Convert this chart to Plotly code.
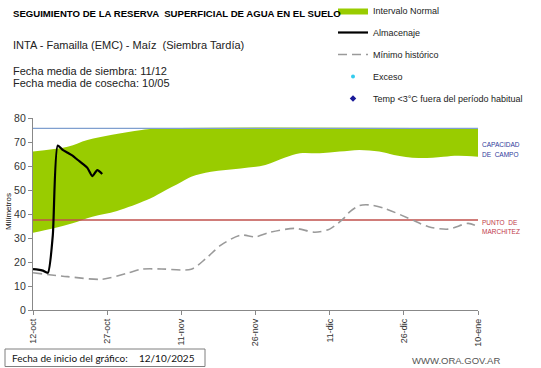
import plotly.graph_objects as go

# ---------------- data ----------------
TICK_DAYS = [0, 15, 30, 45, 60, 75, 90]
TICK_LABELS = ["12-oct", "27-oct", "11-nov", "26-nov", "11-dic", "26-dic", "10-ene"]

BAND_LOW_DAYS = [0, 4, 8, 12, 17, 23, 26, 30, 32, 36, 42, 47, 51, 54, 58, 62, 66, 70, 73, 78, 83, 86, 90]
BAND_LOW = [32.2, 34.0, 36.1, 38.9, 41.3, 45.8, 49.0, 53.3, 55.5, 57.6, 59.0, 60.4, 63.5, 65.3, 65.3,
            66.0, 66.7, 66.0, 64.6, 63.3, 63.9, 64.3, 63.9]
BAND_HIGH_DAYS = [0, 7, 11, 16, 22, 27, 90]
BAND_HIGH = [66.0, 68.0, 70.8, 73.0, 75.0, 75.7, 75.7]

ALM_DAYS = list(range(15))
ALM_VALUES = [17.0, 16.8, 16.4, 15.5, 31.0, 68.5, 66.7, 65.5, 64.3, 62.6, 61.0, 59.2, 55.8, 58.3, 56.7]

MIN_DAYS = [0, 7, 14, 19, 22, 26, 32, 35, 38, 42, 45, 48, 53, 57, 60, 63, 64, 66, 68, 71, 76, 80, 84, 88, 90]
MIN_VALUES = [15.5, 13.9, 12.8, 15.3, 17.0, 17.1, 17.0, 21.5, 27.0, 31.2, 30.5, 32.4, 34.0, 32.4, 33.7,
              38.5, 40.8, 43.5, 43.8, 42.4, 38.2, 34.7, 33.7, 36.1, 34.7]

CAPACIDAD = 75.7
MARCHITEZ = 37.5
X_RANGE = [0, 90]
Y_RANGE = [0, 80]

# ---------------- layout helpers ----------------
WIDTH, HEIGHT = 541, 368
PL, PR, PT, PB = 33, 478, 118, 310


def px(x):
    return (x - PL) / (PR - PL)


def py(y):
    return (PB - y) / (PB - PT)


FONT = "Liberation Sans, Arial, sans-serif"
GREEN = "#99CC00"

fig = go.Figure()

fig.add_trace(go.Scatter(x=BAND_LOW_DAYS, y=BAND_LOW, mode="lines", line=dict(width=0, shape="spline"),
                         showlegend=False, hoverinfo="skip", legendgroup="a"))
fig.add_trace(go.Scatter(x=BAND_HIGH_DAYS, y=BAND_HIGH, mode="lines", line=dict(width=0, shape="spline"),
                         fill="tonexty", fillcolor=GREEN, name="Intervalo Normal", legendgroup="a"))
fig.add_trace(go.Scatter(x=X_RANGE, y=[CAPACIDAD, CAPACIDAD], mode="lines",
                         line=dict(color="#7f9fcf", width=1.3), showlegend=False, hoverinfo="skip"))
fig.add_trace(go.Scatter(x=X_RANGE, y=[MARCHITEZ, MARCHITEZ], mode="lines",
                         line=dict(color="#c0504d", width=1.3), showlegend=False, hoverinfo="skip"))
fig.add_trace(go.Scatter(x=ALM_DAYS, y=ALM_VALUES, mode="lines", name="Almacenaje", legendgroup="b",
                         line=dict(color="black", width=2.2, shape="spline", smoothing=0.6)))
fig.add_trace(go.Scatter(x=MIN_DAYS, y=MIN_VALUES, mode="lines", name="Mínimo histórico", legendgroup="c",
                         line=dict(color="#9a9a9a", width=1.6, dash="9px,5px", shape="spline", smoothing=0.8)))
fig.add_trace(go.Scatter(x=[None], y=[None], mode="markers", name="Exceso", legendgroup="d",
                         marker=dict(color="#33ccee", size=4, symbol="circle")))
fig.add_trace(go.Scatter(x=[None], y=[None], mode="markers", name="Temp <3°C fuera del período habitual",
                         legendgroup="e", marker=dict(color="#1a1a99", size=5, symbol="diamond")))

ann = []


def text(x, y, s, size, color="#000000", anchor="left", family=FONT, yanchor="middle"):
    ann.append(dict(x=px(x), y=py(y), xref="paper", yref="paper", text=s, showarrow=False,
                    xanchor=anchor, yanchor=yanchor, align="left",
                    font=dict(family=family, size=size, color=color)))


text(11, 13, "<b>SEGUIMIENTO DE LA RESERVA  SUPERFICIAL DE AGUA EN EL SUELO</b>", 9.6)
text(11, 45, "INTA - Famailla (EMC) - Maíz  (Siembra Tardía)", 11, "#222222")
text(11, 71, "Fecha media de siembra: 11/12", 11, "#222222")
text(11, 83, "Fecha media de cosecha: 10/05", 11, "#222222")
text(480, 144, "CAPACIDAD", 6.5, "#2e3a9a")
text(480, 154, "DE  CAMPO", 6.5, "#2e3a9a")
text(480, 222, "PUNTO  DE", 6.5, "#c03a4a")
text(480, 231, "MARCHITEZ", 6.5, "#c03a4a")
text(10, 358, "Fecha de inicio del gráfico:", 10, "#111111", family="Lato, Carlito, sans-serif")
text(137, 358, "12/10/2025", 10, "#111111", family="Lato, Carlito, sans-serif")
text(456, 360, "WWW.ORA.GOV.AR", 9.5, "#555555", anchor="center")
ann.append(dict(x=px(8), y=py(212), xref="paper", yref="paper", text="Milímetros", showarrow=False,
                textangle=-90, xanchor="center", yanchor="middle",
                font=dict(family=FONT, size=8, color="#111111")))

fig.update_layout(
    width=WIDTH, height=HEIGHT,
    margin=dict(l=PL, r=WIDTH - PR, t=PT, b=HEIGHT - PB, pad=0, autoexpand=False),
    paper_bgcolor="white", plot_bgcolor="white",
    font=dict(family=FONT, size=10, color="#333333"),
    annotations=ann,
    shapes=[dict(type="rect", xref="paper", yref="paper", x0=px(5), x1=px(205), y0=py(349), y1=py(366.5),
                 line=dict(color="#7f7f7f", width=1))],
    showlegend=True,
    legend=dict(x=px(333), y=py(-4), xanchor="left", yanchor="top", traceorder="grouped",
                tracegroupgap=3, font=dict(family=FONT, size=9, color="#222222"),
                bgcolor="rgba(0,0,0,0)", itemclick=False),
    xaxis=dict(range=X_RANGE, tickvals=TICK_DAYS, ticktext=TICK_LABELS, tickangle=-90,
               showgrid=False, zeroline=False, showline=True, linecolor="#888888", linewidth=1.3,
               ticks="outside", ticklen=4, tickcolor="#888888",
               tickfont=dict(family=FONT, size=9, color="#333333"), fixedrange=True),
    yaxis=dict(range=Y_RANGE, dtick=10, showgrid=False, zeroline=False, showline=True,
               linecolor="#888888", linewidth=1.3, ticks="outside", ticklen=4, tickcolor="#888888",
               tickfont=dict(family=FONT, size=10.5, color="#333333"), fixedrange=True),
)

fig.write_html("out.html", config={"displayModeBar": False},
               post_script="document.body.style.margin='0';")
